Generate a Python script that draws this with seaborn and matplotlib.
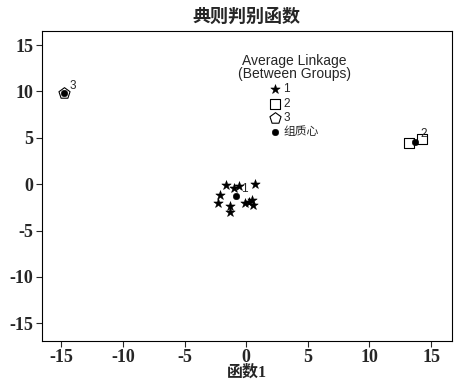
import numpy as np
import matplotlib
matplotlib.use('Agg')
import matplotlib.pyplot as plt
import pandas as pd
import seaborn as sns

# canonical discriminant function scores
g1_x = [-1.65, -0.6, 0.75, -2.1, -2.3, -1.3, -1.3, -0.1, 0.45, 0.55, -1.0, 0.2]
g1_y = [-0.1, -0.2, 0.05, -1.15, -2.0, -2.4, -3.0, -2.0, -1.7, -2.3, -0.4, -1.9]
g2_x = [13.2, 14.25]
g2_y = [4.4, 4.85]
g3_x = [-14.8]
g3_y = [9.8]
cent_x = [-0.85, 13.7, -14.8]
cent_y = [-1.3, 4.6, 9.8]
cent_labels = ['1', '2', '3']

xticks = [-15, -10, -5, 0, 5, 10, 15]
yticks = [-15, -10, -5, 0, 5, 10, 15]

df1 = pd.DataFrame({'x': g1_x, 'y': g1_y})
df2 = pd.DataFrame({'x': g2_x, 'y': g2_y})
df3 = pd.DataFrame({'x': g3_x, 'y': g3_y})
dfc = pd.DataFrame({'x': cent_x, 'y': cent_y})

sns.set_style('ticks')
plt.rcParams['font.family'] = ['Liberation Serif', 'Noto Sans CJK SC']
plt.rcParams['axes.unicode_minus'] = False

fig = plt.figure(figsize=(4.57, 3.8), dpi=100)
ax = fig.add_axes([0.091, 0.103, 0.898, 0.815])

sns.scatterplot(data=df1, x='x', y='y', marker='*', s=50, color='black',
                edgecolor='black', linewidth=0.4, ax=ax, label='1')
sns.scatterplot(data=df2, x='x', y='y', marker='s', s=50, facecolor='white',
                edgecolor='black', linewidth=0.8, ax=ax, label='2')
sns.scatterplot(data=df3, x='x', y='y', marker='p', s=70, facecolor='white',
                edgecolor='black', linewidth=0.8, ax=ax, label='3')
sns.scatterplot(data=dfc, x='x', y='y', marker='o', s=22, color='black',
                edgecolor='black', ax=ax, label='组质心')

for cx, cy, lab in zip(cent_x, cent_y, cent_labels):
    ax.annotate(lab, (cx, cy), xytext=(4, 3), textcoords='offset points',
                fontsize=8.5, family=['Liberation Sans'])

ax.set_xlim(-16.6, 16.7)
ax.set_ylim(-16.9, 16.5)
ax.set_xticks(xticks)
ax.set_yticks(yticks)
ax.tick_params(labelsize=13, length=4, width=0.8, direction='out', pad=2)
for lbl in ax.get_xticklabels() + ax.get_yticklabels():
    lbl.set_fontweight('bold')
for sp in ax.spines.values():
    sp.set_visible(True)
    sp.set_linewidth(0.8)
    sp.set_color('black')

ax.set_xlabel('函数1', fontsize=11.5, labelpad=-1, fontweight='bold',
              family=['Liberation Serif', 'Noto Sans CJK SC'])
ax.set_ylabel('')
ax.set_title('典则判别函数', fontsize=13, fontweight='bold', pad=7,
             family=['Noto Sans CJK SC'])

leg = ax.legend(loc='upper center', bbox_to_anchor=(294 / 457, 1 - 48 / 380),
                bbox_transform=fig.transFigure, frameon=False,
                title='Average Linkage\n(Between Groups)',
                prop={'family': ['Liberation Sans', 'Noto Sans CJK SC'], 'size': 8.5},
                labelspacing=0.18, handletextpad=0.2, handlelength=1.0,
                borderpad=0, title_fontproperties={'family': 'Liberation Sans', 'size': 10})
leg.get_title().set_multialignment('center')
leg.get_title().set_linespacing(0.95)

plt.savefig('out.png', dpi=100)
